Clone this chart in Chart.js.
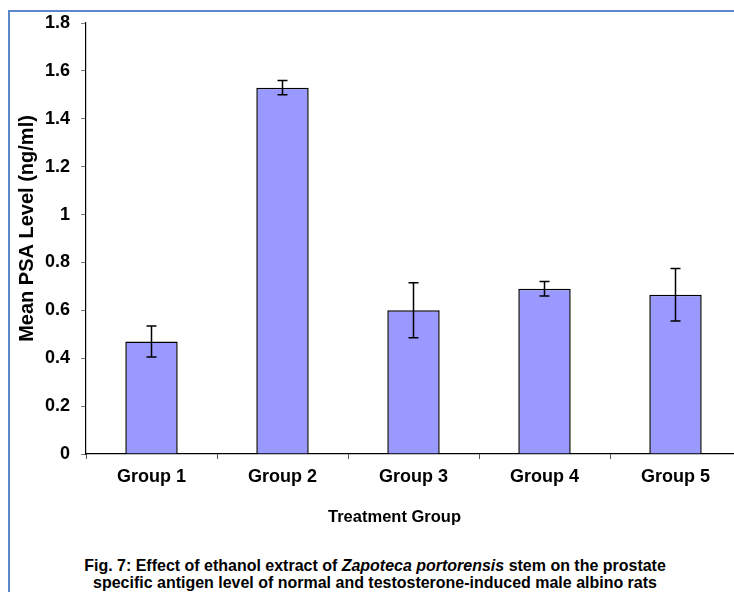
<!DOCTYPE html>
<html>
<head>
<meta charset="utf-8">
<script src="https://cdn.jsdelivr.net/npm/chart.js@4.4.1/dist/chart.umd.min.js"></script>
<style>
  html, body { margin: 0; padding: 0; background: #fff; overflow: hidden; }
  body { width: 734px; height: 592px; position: relative; }
  #frame {
    position: absolute; left: 8px; top: 10px; width: 760px; height: 600px;
    border-left: 2px solid #5b88c8; border-top: 2px solid #5b88c8;
  }
  #wrap { position: absolute; left: 0; top: 0; width: 750px; height: 530px; }
  #caption {
    position: absolute; left: 0; top: 557px; width: 750px; text-align: center;
    font-family: "Liberation Sans", Arial, sans-serif;
    font-weight: bold; font-size: 17px; line-height: 17px; color: #000;
    transform: scaleX(0.94); transform-origin: 375px 0;
  }
</style>
</head>
<body>
<div id="frame"></div>
<div id="wrap"><canvas id="chart" width="750" height="530"></canvas></div>
<div id="caption">Fig. 7: Effect of ethanol extract of <i>Zapoteca portorensis</i> stem on the prostate<br>specific antigen level of normal and testosterone-induced male albino rats</div>
<script>
// Treatment groups and mean PSA level (ng/ml) with error (±)
const groups = ["Group 1", "Group 2", "Group 3", "Group 4", "Group 5"];
const meanPSA = [0.47, 1.53, 0.60, 0.69, 0.665];
const errPSA = [0.065, 0.03, 0.115, 0.03, 0.11];
const yTicks = [0, 0.2, 0.4, 0.6, 0.8, 1, 1.2, 1.4, 1.6, 1.8];
const yTitle = "Mean PSA Level (ng/ml)";
const xTitle = "Treatment Group";

const FONT = "'Liberation Sans', Arial, sans-serif";

// Draws vertical error bars with caps on top of each bar
const errorBars = {
  id: "errorBars",
  afterDatasetsDraw(chart) {
    const ctx = chart.ctx;
    const y = chart.scales.y;
    const meta = chart.getDatasetMeta(0);
    ctx.save();
    ctx.strokeStyle = "#000";
    ctx.lineWidth = 1.5;
    meta.data.forEach((bar, i) => {
      const yTop = y.getPixelForValue(meanPSA[i] + errPSA[i]);
      const yBot = y.getPixelForValue(meanPSA[i] - errPSA[i]);
      const x = bar.x;
      ctx.beginPath();
      ctx.moveTo(x, yTop); ctx.lineTo(x, yBot);
      ctx.moveTo(x - 5, yTop); ctx.lineTo(x + 5, yTop);
      ctx.moveTo(x - 5, yBot); ctx.lineTo(x + 5, yBot);
      ctx.stroke();
    });
    ctx.restore();
  }
};

// Axis titles: rotated y title a little above the plot's middle,
// x title below the tick labels, slightly left of the plot's middle
const axisTitles = {
  id: "axisTitles",
  afterDraw(chart) {
    const ctx = chart.ctx;
    const area = chart.chartArea;
    ctx.save();
    ctx.fillStyle = "#000";
    ctx.textAlign = "center";
    ctx.textBaseline = "middle";

    ctx.font = "bold 16.5px " + FONT;
    ctx.fillText(xTitle, (area.left + area.right) / 2 - 19, area.bottom + 63);

    ctx.translate(27, (area.top + area.bottom) / 2 - 10);
    ctx.rotate(-Math.PI / 2);
    ctx.font = "bold 20px " + FONT;
    ctx.fillText(yTitle, 0, 0);
    ctx.restore();
  }
};

new Chart(document.getElementById("chart"), {
  type: "bar",
  data: {
    labels: groups,
    datasets: [{
      data: meanPSA,
      backgroundColor: "#9999ff",
      borderColor: "#000",
      borderWidth: 1.5,
      barPercentage: 0.4,
      categoryPercentage: 1.0
    }]
  },
  options: {
    responsive: false,
    animation: false,
    layout: { padding: { left: 0, top: 23, right: 9, bottom: 0 } },
    plugins: { legend: { display: false }, tooltip: { enabled: false } },
    scales: {
      x: {
        afterFit(scale) { scale.height = 76; },
        grid: { drawOnChartArea: false, tickLength: 5, color: "#555", offset: true },
        border: { color: "#000", width: 1.2 },
        ticks: { color: "#000", padding: 7, font: { family: FONT, size: 18, weight: "bold" } }
      },
      y: {
        min: 0, max: 1.8,
        afterFit(scale) { scale.width = 86; },
        afterBuildTicks(scale) { scale.ticks = yTicks.map(v => ({ value: v })); },
        grid: { drawOnChartArea: false, tickLength: 5, color: "#808080" },
        border: { color: "#000", width: 1.2 },
        ticks: {
          color: "#000", padding: 11,
          font: { family: FONT, size: 18, weight: "bold" },
          callback: v => String(Math.round(v * 10) / 10)
        }
      }
    }
  },
  plugins: [errorBars, axisTitles]
});
</script>
</body>
</html>
